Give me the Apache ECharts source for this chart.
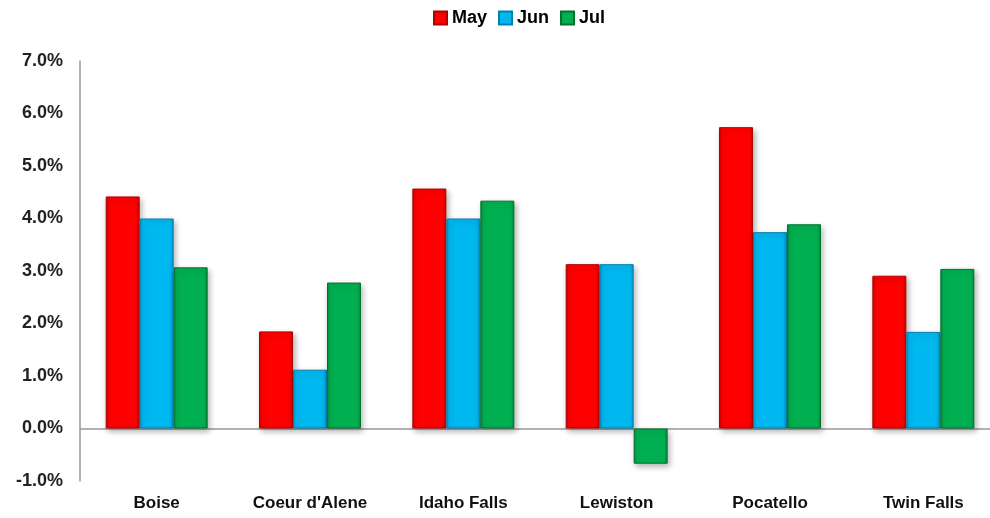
<!DOCTYPE html>
<html><head><meta charset="utf-8">
<script src="https://cdn.jsdelivr.net/npm/echarts@6/dist/echarts.min.js"></script>
<style>html,body{margin:0;padding:0;background:#fff;overflow:hidden}#wrap{width:990px;height:518px;overflow:hidden}#c{width:1004px;height:518px}</style>
</head><body><div id="wrap"><div id="c"></div></div>
<script>
const categories = ["Boise", "Coeur d'Alene", "Idaho Falls", "Lewiston", "Pocatello", "Twin Falls"];
const seriesNames = ["May", "Jun", "Jul"];
const mayValues = [4.42, 1.85, 4.57, 3.13, 5.74, 2.91];
const junValues = [4.00, 1.12, 4.00, 3.13, 3.74, 1.84];
const julValues = [3.07, 2.78, 4.34, -0.67, 3.89, 3.04];
const yTicks = [-1, 0, 1, 2, 3, 4, 5, 6, 7];

const colors = [
  {base:'#FF0000', dark:'#C80000', border:'#B00000'},
  {base:'#00B8F0', dark:'#0094CC', border:'#0080B0'},
  {base:'#00B050', dark:'#008A3C', border:'#007030'}
];
function grad(c){
  return new echarts.graphic.LinearGradient(0,0,1,0,[
    {offset:0,color:c.dark},{offset:0.1,color:c.base},{offset:0.9,color:c.base},{offset:1,color:c.dark}
  ]);
}
const allValues = [mayValues, junValues, julValues];
const chart = echarts.init(document.getElementById('c'), null, {renderer:'canvas'});
chart.setOption({
  animation:false,
  legend:{
    top:4, left:428, itemWidth:13, itemHeight:13, itemGap:11, icon:'rect',
    textStyle:{fontFamily:'Liberation Sans', fontWeight:'bold', fontSize:18, color:'#000'},
    data: seriesNames
  },
  grid:{left:80, top:61, width:920, height:420, containLabel:false},
  xAxis:[{
    type:'category', data:categories,
    axisLine:{onZero:true, lineStyle:{color:'#999', width:1.5}},
    axisTick:{show:false}, axisLabel:{show:false}
  },{
    type:'category', data:categories, position:'bottom',
    axisLine:{show:false, onZero:false}, axisTick:{show:false},
    axisLabel:{margin:14, fontFamily:'Liberation Sans', fontWeight:'bold', fontSize:17, color:'#111'}
  }],
  yAxis:{
    type:'value', min:yTicks[0], max:yTicks[yTicks.length-1], interval:1,
    splitLine:{show:false},
    axisLine:{show:true, lineStyle:{color:'#999', width:1.5}},
    axisTick:{show:false},
    axisLabel:{margin:17, fontFamily:'Liberation Sans', fontWeight:'bold', fontSize:18, color:'#222',
      formatter:v=>v.toFixed(1)+'%'}
  },
  series: seriesNames.map((n,i)=>({
    name:n, type:'bar', data:allValues[i],
    barGap:'0%', barCategoryGap:'33.5%',
    itemStyle:{color:grad(colors[i]), borderColor:colors[i].border, borderWidth:1,
      shadowColor:'rgba(0,0,0,0.3)', shadowBlur:6, shadowOffsetX:2, shadowOffsetY:3},
    emphasis:{disabled:true}
  }))
});
</script></body></html>
